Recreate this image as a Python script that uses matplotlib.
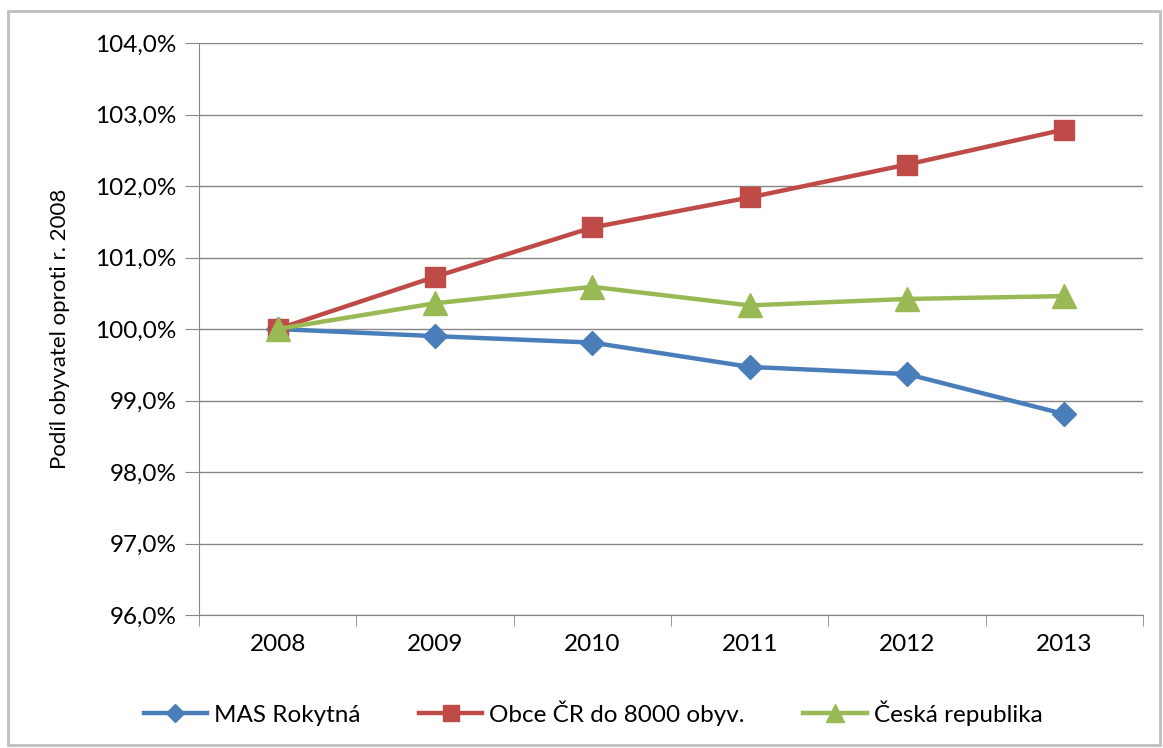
import numpy as np
import matplotlib.pyplot as plt
from matplotlib.ticker import FuncFormatter, FixedLocator
from matplotlib.patches import Rectangle

plt.rcParams['font.family'] = ['Lato', 'DejaVu Sans']

# data
years = ['2008', '2009', '2010', '2011', '2012', '2013']
mas = [100.0, 99.90, 99.81, 99.47, 99.37, 98.81]
obce = [100.0, 100.73, 101.42, 101.84, 102.30, 102.79]
cr = [100.0, 100.36, 100.59, 100.33, 100.42, 100.46]

fig = plt.figure(figsize=(11.63, 7.48), dpi=100)
ax = fig.add_axes([199/1163, 1-615/748, (1143-199)/1163, (615-43)/748])

x = np.arange(len(years))
ax.plot(x, mas, color='#4A7EBB', lw=3.2, marker='D', ms=12, label='MAS Rokytná')
ax.plot(x, obce, color='#BE4B48', lw=3.2, marker='s', ms=15, label='Obce ČR do 8000 obyv.')
ax.plot(x, cr, color='#98B954', lw=3.2, marker='^', ms=17, label='Česká republika')

ax.set_xlim(-0.5, 5.5)
ax.set_ylim(96, 104)
ax.set_yticks(np.arange(96, 104.1, 1))
ax.yaxis.set_major_formatter(FuncFormatter(lambda v, p: f'{v:.1f}%'.replace('.', ',')))
ax.set_xticks(x)
ax.set_xticklabels(years)
ax.xaxis.set_minor_locator(FixedLocator(np.arange(-0.5, 5.6, 1)))
ax.tick_params(axis='x', which='major', length=0, labelsize=17.5, pad=14)
ax.tick_params(axis='x', which='minor', length=8, color='#868686', direction='out')
ax.tick_params(axis='y', length=10, color='#868686', labelsize=17.5, pad=6)

ax.grid(axis='y', color='#868686', lw=1)
ax.set_axisbelow(True)
for s in ['top', 'right']:
    ax.spines[s].set_visible(False)
for s in ['left', 'bottom']:
    ax.spines[s].set_color('#868686')

ax.set_ylabel('Podíl obyvatel oproti r. 2008', fontsize=16, labelpad=18)

fig.legend(loc='center', bbox_to_anchor=(0.51, 1-713/748), ncol=3, frameon=False,
           fontsize=17.5, handlelength=2.6, columnspacing=2.4, handletextpad=0.3,
           markerscale=0.8)

fig.patches.append(Rectangle((8/1163, 1-745/748), 1152/1163, 734/748,
                             transform=fig.transFigure, fill=False,
                             edgecolor='#BFBFBF', lw=2))

fig.savefig('out.png', dpi=100)
